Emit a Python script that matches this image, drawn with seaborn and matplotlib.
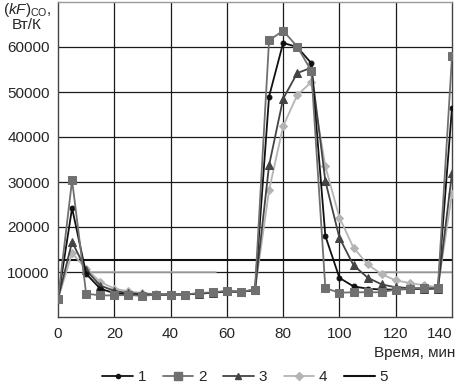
import numpy as np
import pandas as pd
import matplotlib
matplotlib.use("Agg")
import matplotlib.pyplot as plt
import seaborn as sns
from matplotlib.lines import Line2D

# ---- data ----
time_min = [0, 5, 10, 15, 20, 25, 30, 35, 40, 45, 50, 55, 60, 65, 70,
            75, 80, 85, 90, 95, 100, 105, 110, 115, 120, 125, 130, 135, 140]
s1 = [4000, 24200, 9600, 6300, 5300, 5000, 4900, 4900, 5000, 5000, 5200, 5400, 5700, 5600, 6000,
      49000, 60900, 60000, 56400, 18000, 8700, 6800, 6300, 6100, 6100, 6200, 6300, 6400, 46500]
s2 = [4000, 30400, 5200, 4800, 4800, 4900, 4700, 5000, 5000, 5000, 5300, 5500, 5800, 5600, 6100,
      61500, 63600, 60100, 54700, 6400, 5400, 5500, 5500, 5500, 6100, 6300, 6500, 6500, 57900]
s3 = [4000, 16700, 10400, 7000, 5800, 5300, 5100, 5000, 5000, 5000, 5200, 5400, 5700, 5600, 6000,
      33700, 48500, 54200, 55400, 30200, 17600, 11500, 8750, 7250, 6600, 6450, 6300, 6300, 32000]
s4 = [4000, 14200, 10700, 7800, 6300, 5700, 5300, 5100, 5000, 5000, 5200, 5400, 5700, 5600, 6000,
      28200, 42400, 49300, 52200, 33500, 22100, 15400, 11700, 9500, 8150, 7550, 7050, 6650, 27400]
s5_level = 12700
gray_seg1_t = [9, 56]
gray_seg2_t = [115, 140]
gray_level = 10100
series_labels = ["1", "2", "3", "4", "5"]
x_ticks = [0, 20, 40, 60, 80, 100, 120, 140]
y_ticks = [10000, 20000, 30000, 40000, 50000, 60000]

sns.set_theme(style="white")
plt.rcParams['font.family'] = ['Liberation Sans', 'DejaVu Sans']
plt.rcParams['mathtext.fontset'] = 'custom'
plt.rcParams['mathtext.rm'] = 'Liberation Sans'
plt.rcParams['mathtext.it'] = 'Liberation Sans:italic'

fig = plt.figure(figsize=(4.58, 3.83), dpi=100)
ax = fig.add_axes([58/458, 1-317/383, (452-58)/458, (317-2)/383])

# gridlines
for xv in x_ticks[1:-1]:
    ax.axvline(xv, color="#1a1a1a", lw=0.9, zorder=0)
for yv in y_ticks:
    ax.axhline(yv, color="#1a1a1a", lw=0.9, zorder=0)

# faint gray level segments
ax.plot(gray_seg1_t, [gray_level]*2, color="#b0b0b0", lw=1.2, zorder=1)
ax.plot(gray_seg2_t, [gray_level]*2, color="#b0b0b0", lw=1.2, zorder=1)

df = pd.DataFrame({"t": time_min, "1": s1, "2": s2, "3": s3, "4": s4})

styles = {
    "1": dict(color="#111111", marker="o", markersize=3.5, lw=1.3),
    "2": dict(color="#707070", marker="s", markersize=6, lw=1.3),
    "3": dict(color="#444444", marker="^", markersize=5.5, lw=1.3),
    "4": dict(color="#b4b4b4", marker="D", markersize=4.5, lw=1.3),
}
for key in ["4", "3", "1", "2"]:
    st = styles[key]
    sns.lineplot(data=df, x="t", y=key, ax=ax, color=st["color"], lw=st["lw"],
                 marker=st["marker"], markersize=st["markersize"],
                 markeredgecolor=st["color"], markerfacecolor=st["color"],
                 label=key, legend=False, zorder=3)
ax.plot([time_min[0], time_min[-1]], [s5_level]*2, color="#111111", lw=1.5, zorder=2)

leg_handles = []
for key in ["1", "2", "3", "4"]:
    st = styles[key]
    leg_handles.append(Line2D([], [], color=st["color"], lw=st["lw"], marker=st["marker"],
                              markersize=st["markersize"]*0.85, markerfacecolor=st["color"],
                              markeredgecolor=st["color"]))
leg_handles.append(Line2D([], [], color="#111111", lw=1.5))
fig.legend(leg_handles, series_labels, loc="center", bbox_to_anchor=(0.535, 1-377/383),
           ncol=5, frameon=False, fontsize=11, handlelength=2.0, columnspacing=1.1,
           handletextpad=0.3, borderpad=0)

ax.set_xlim(0, 140)
ax.set_ylim(0, 70000)
ax.set_xticks(x_ticks)
ax.set_yticks(y_ticks)
ax.set_xticklabels([str(v) for v in x_ticks], fontsize=11)
ax.set_yticklabels([str(v) for v in y_ticks], fontsize=11)
ax.get_xticklabels()[-1].set_horizontalalignment("right")
ax.tick_params(axis="both", length=0, pad=7)
ax.tick_params(axis="y", pad=6)
ax.set_xlabel("")
ax.set_ylabel("")
for name, sp in ax.spines.items():
    sp.set_visible(True)
    sp.set_linewidth(1.0)
    sp.set_color("#444444")
ax.spines["top"].set_color("#999999")

fig.text(455/458, 1-353/383, "Время, мин", ha="right", va="center", fontsize=11)
fig.text(27/458, 1-10/383, r"$(\mathit{kF})_{\mathrm{CO}}$,", ha="center", va="center", fontsize=11)
fig.text(27/458, 1-25/383, "Вт/К", ha="center", va="center", fontsize=11)

fig.savefig("out.png", dpi=100)
